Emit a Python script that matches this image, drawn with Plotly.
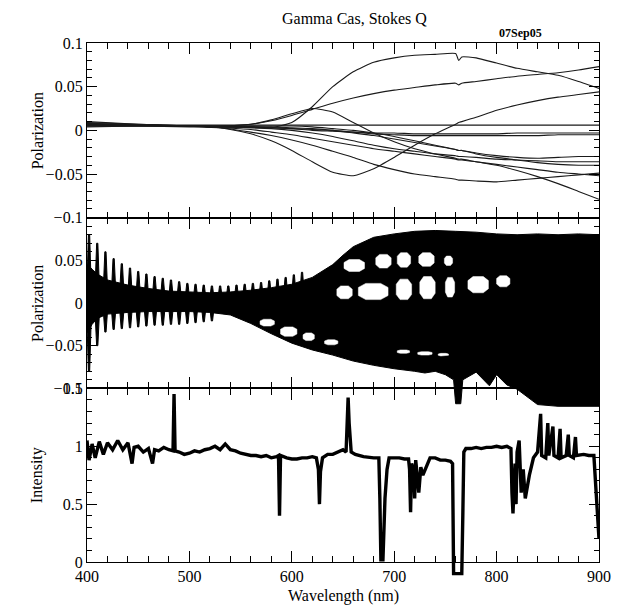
import plotly.graph_objects as go

# ---------------- data ----------------
# top panel: smoothed Stokes Q curves sampled on a common wavelength grid (nm)
wl_grid = [400, 450, 500, 530, 560, 580, 600, 620, 640, 660, 680, 700, 720, 740, 760, 763, 766, 780, 800, 820, 840, 860, 880, 900]
q_a = [.008, .006, .005, .004, .003, .003, .009, .027, .050, .067, .078, .083, .086, .087, .088, .080, .084, .083, .077, .071, .067, .063, .056, .048]
q_b = [.007, .006, .005, .005, .007, .011, .017, .024, .031, .037, .042, .046, .049, .052, .054, .052, .054, .056, .059, .062, .064, .066, .069, .073]
q_c = [.006, .006, .005, .005, .007, .012, .019, .025, .021, .009, -.003, -.013, -.021, -.027, -.032, -.033, -.033, -.036, -.040, -.046, -.053, -.061, -.070, -.079]
q_d = [.009, .007, .005, .003, -.004, -.012, -.023, -.036, -.048, -.052, -.044, -.031, -.017, -.004, .007, .009, .010, .015, .023, .029, .034, .038, .041, .044]
q_e = [.005, .005, .004, .003, -.002, -.006, -.011, -.017, -.024, -.031, -.039, -.045, -.050, -.053, -.056, -.057, -.057, -.058, -.059, -.057, -.055, -.053, -.051, -.049]
q_f = [.007, .006, .006, .006, .006, .006, .006, .006, .006, .006, .006, .006, .006, .006, .006, .006, .006, .006, .006, .006, .006, .006, .006, .006]
q_g = [.006, .005, .005, .004, .004, .003, .002, .000, -.001, -.002, -.003, -.003, -.004, -.004, -.004, -.004, -.004, -.004, -.004, -.003, -.003, -.003, -.003, -.003]
q_h = [.004, .005, .005, .004, .004, .003, .002, .001, .000, -.002, -.004, -.005, -.006, -.006, -.006, -.006, -.006, -.006, -.006, -.006, -.006, -.005, -.005, -.005]
q_i = [.006, .006, .005, .005, .004, .004, .003, .002, .000, -.003, -.006, -.010, -.014, -.018, -.022, -.023, -.023, -.026, -.029, -.031, -.032, -.031, -.030, -.030]
q_j = [.008, .006, .005, .004, .003, .002, .000, -.003, -.007, -.012, -.017, -.021, -.024, -.027, -.029, -.030, -.030, -.031, -.033, -.034, -.035, -.036, -.036, -.036]
q_k = [.010, .007, .005, .003, .001, -.002, -.005, -.009, -.013, -.017, -.021, -.024, -.027, -.030, -.033, -.034, -.034, -.036, -.039, -.042, -.045, -.048, -.050, -.052]
q_l = [.005, .005, .005, .005, .005, .005, .005, .004, .002, .000, -.003, -.007, -.012, -.017, -.022, -.023, -.023, -.027, -.031, -.034, -.037, -.039, -.040, -.040]

# middle panel: envelope of the unsmoothed polarization data
mid_up_wl = [400, 405, 410, 420, 440, 460, 480, 500, 520, 540, 560, 580, 600, 620, 640, 650, 660, 680, 700, 720, 740, 760, 780, 800, 820, 840, 860, 880, 900]
mid_up = [.045, .040, .034, .027, .021, .017, .014, .013, .012, .013, .015, .018, .022, .030, .045, .056, .066, .077, .081, .084, .085, .084, .083, .081, .080, .081, .080, .081, .080]
mid_lo_wl = [400, 405, 410, 420, 440, 460, 480, 500, 520, 540, 560, 580, 600, 620, 640, 660, 680, 700, 720, 730, 740, 750, 758, 760, 765, 767, 780, 793, 800, 810, 820, 830, 840, 860, 880, 900]
mid_lo = [-.035, -.025, -.018, -.013, -.011, -.010, -.010, -.010, -.011, -.014, -.024, -.036, -.047, -.055, -.061, -.068, -.073, -.077, -.080, -.082, -.080, -.084, -.090, -.118, -.118, -.090, -.081, -.097, -.084, -.096, -.101, -.110, -.119, -.121, -.121, -.121]
# fringe spikes (wavelength, tip)
fr_up_wl = [402, 410, 418, 426, 434, 442, 450, 458, 466, 474, 482, 490, 498, 506, 514, 522, 530, 538, 546, 554, 562, 570, 578, 586, 594, 602, 610]
fr_up = [.080, .070, .060, .052, .046, .041, .037, .034, .031, .029, .027, .025, .023, .022, .021, .020, .020, .020, .021, .022, .023, .024, .026, .028, .030, .033, .036]
fr_lo_wl = [402, 410, 418, 426, 434, 442, 450, 458, 466, 474, 482, 490, 498, 506, 514, 522]
fr_lo = [-.080, -.050, -.034, -.031, -.030, -.029, -.028, -.027, -.026, -.026, -.025, -.025, -.024, -.023, -.022, -.021]
# white gaps inside the envelope: wavelength start/end, polarization low/high
gap_wl0 = [651, 682, 703, 724, 749, 644, 665, 702, 725, 750, 772, 800, 569, 589, 611, 632, 703, 723, 743]
gap_wl1 = [671, 697, 716, 739, 757, 659, 694, 717, 740, 759, 792, 813, 583, 605, 622, 645, 715, 737, 753]
gap_p0 = [.037, .041, .042, .043, .044, .005, .004, .004, .005, .007, .012, .019, -.027, -.039, -.044, -.049, -.059, -.061, -.062]
gap_p1 = [.051, .057, .059, .059, .055, .020, .023, .028, .031, .030, .031, .032, -.019, -.028, -.035, -.043, -.055, -.057, -.059]

# bottom panel: normalized intensity
int_wl = [400, 402, 405, 408, 412, 416, 420, 425, 430, 435, 440, 444, 446, 450, 455, 460, 464, 466, 470, 475, 480, 484, 485, 486, 490, 495,
          500, 505, 510, 515, 520, 525, 530, 535, 540, 545, 550, 555, 560, 565, 570, 575, 580, 585, 587, 588, 589, 595,
          600, 605, 610, 615, 620, 624, 626, 627, 628, 630, 635, 640, 645, 650, 653, 655, 656, 658, 662, 670, 680, 685,
          686, 687, 689, 690, 691, 693, 695, 700, 705, 710, 714, 715, 716, 717, 719, 720, 721, 723, 724, 726, 728, 735, 740, 745, 750, 755, 757,
          758, 766, 767, 768, 770, 775, 780, 785, 790, 795, 800, 805, 810, 814, 815, 816, 818, 819, 820, 822, 824, 826, 828, 832, 836, 840,
          843, 844, 848, 850, 851, 855, 856, 860, 862, 863, 868, 870, 871, 875, 877, 878, 885, 890, 895, 897, 899, 900]
int_val = [1.05, 0.88, 1.02, 0.90, 1.04, 0.93, 1.03, 0.97, 1.05, 0.97, 1.03, 0.85, 0.99, 1.00, 0.95, 0.98, 0.85, 0.97, 0.96, 0.99, 0.97, 0.96, 1.45, 0.96, 0.95, 0.93,
           0.94, 0.96, 0.95, 0.97, 0.98, 1.00, 0.97, 1.02, 0.97, 0.96, 0.94, 0.93, 0.92, 0.92, 0.91, 0.92, 0.90, 0.91, 0.92, 0.40, 0.92, 0.90,
           0.89, 0.89, 0.90, 0.90, 0.91, 0.90, 0.80, 0.50, 0.78, 0.90, 0.93, 0.93, 0.95, 0.97, 0.95, 1.42, 1.20, 0.95, 0.93, 0.91, 0.90, 0.90,
           0.55, 0.02, 0.02, 0.30, 0.55, 0.80, 0.90, 0.90, 0.90, 0.89, 0.89, 0.80, 0.43, 0.85, 0.80, 0.55, 0.88, 0.70, 0.60, 0.82, 0.75, 0.90, 0.90, 0.88, 0.88, 0.87, 0.85,
           -0.10, -0.10, 0.40, 0.95, 0.98, 0.98, 0.99, 0.98, 0.99, 0.99, 1.00, 0.99, 1.00, 0.98, 0.60, 0.42, 0.85, 0.50, 0.95, 1.05, 0.60, 0.80, 0.55, 0.75, 0.90, 0.95,
           1.28, 0.92, 0.90, 1.20, 0.92, 1.17, 0.92, 0.90, 1.15, 0.90, 0.92, 1.10, 0.92, 0.90, 1.08, 0.92, 0.93, 0.92, 0.92, 0.60, 0.25, 0.20]

# tick labels
x_ticks = [400, 500, 600, 700, 800, 900]
top_ticks = [-0.1, -0.05, 0, 0.05, 0.1]
top_text = ["\u22120.1", "\u22120.05", "0", "0.05", "0.1"]
mid_ticks = [-0.1, -0.05, 0, 0.05]
mid_text = ["\u22120.1", "\u22120.05", "0", "0.05"]
bot_ticks = [0, 0.5, 1, 1.5]
bot_text = ["0", "0.5", "1", "1.5"]

# ---------------- layout geometry ----------------
W, H = 623, 605
ML, MR, MT, MB = 87, 14, 43, 20
PH = H - MT - MB
PW = W - ML - MR


def fy(px):
    return (H - MB - px) / PH


def fx(px):
    return (px - ML) / PW


TOP0, TOP1 = 43, 218
MID0, MID1 = 218, 389
BOT0, BOT1 = 389, 563
MID_EXT = 415
BOT_EXT = H - MB

mid_scale = 0.2 / (MID1 - MID0)
mid_ext_low = -0.1 - (MID_EXT - MID1) * mid_scale
bot_scale = 1.5 / (BOT1 - BOT0)
bot_ext_low = 0 - (BOT_EXT - BOT1) * bot_scale

FONT = "Liberation Serif"
INK = "black"

fig = go.Figure()

# top panel curves
for q in [q_a, q_b, q_c, q_d, q_e, q_f, q_g, q_h, q_i, q_j, q_k, q_l]:
    fig.add_trace(go.Scatter(x=wl_grid, y=q, xaxis="x3", yaxis="y", mode="lines",
                             line=dict(color="#1a1a1a", width=1.1, shape="spline", smoothing=0.5),
                             hoverinfo="skip", showlegend=False))

# middle panel envelope
fig.add_trace(go.Scatter(x=mid_up_wl + mid_lo_wl[::-1], y=mid_up + mid_lo[::-1], xaxis="x2", yaxis="y4",
                         mode="lines", fill="toself", fillcolor=INK, line=dict(color=INK, width=1),
                         hoverinfo="skip", showlegend=False))
# fringe spikes
fx_, fy_ = [], []
for w, t in zip(fr_up_wl, fr_up):
    fx_ += [w - 2.6, w - 0.6, w + 0.6, w + 2.6, None]
    fy_ += [0, t, t, 0, None]
for w, t in zip(fr_lo_wl, fr_lo):
    fx_ += [w - 2.6, w - 0.6, w + 0.6, w + 2.6, None]
    fy_ += [0, t, t, 0, None]
fig.add_trace(go.Scatter(x=fx_, y=fy_, xaxis="x2", yaxis="y4", mode="lines", fill="toself",
                         fillcolor=INK, line=dict(color=INK, width=1), hoverinfo="skip", showlegend=False))
# white gaps
gx, gy = [], []
for a, b, lo, hi in zip(gap_wl0, gap_wl1, gap_p0, gap_p1):
    dw = (b - a) * 0.25
    dp = (hi - lo) * 0.25
    gx += [a + dw, b - dw, b, b, b - dw, a + dw, a, a, a + dw, None]
    gy += [lo, lo, lo + dp, hi - dp, hi, hi, hi - dp, lo + dp, lo, None]
fig.add_trace(go.Scatter(x=gx, y=gy, xaxis="x2", yaxis="y4", mode="lines", fill="toself",
                         fillcolor="white", line=dict(color="white", width=0.5), hoverinfo="skip", showlegend=False))

# bottom panel spectrum
fig.add_trace(go.Scatter(x=int_wl, y=int_val, xaxis="x", yaxis="y5", mode="lines",
                         line=dict(color=INK, width=3.4), hoverinfo="skip", showlegend=False))

# placeholder traces so every framed subplot exists
for xa, ya in [("x", "y3"), ("x2", "y2"), ("x3", "y")]:
    fig.add_trace(go.Scatter(x=[None], y=[None], xaxis=xa, yaxis=ya, mode="lines", showlegend=False, hoverinfo="skip"))

tickfont = dict(family=FONT, size=16, color=INK)

xcommon = dict(range=[400, 900], showgrid=False, zeroline=False, showline=True, linecolor=INK, linewidth=1.3,
               mirror="ticks", ticks="inside", ticklen=11, tickwidth=1.2, tickcolor=INK, dtick=100, tick0=400,
               minor=dict(ticks="inside", ticklen=6, tickwidth=1, tickcolor=INK, dtick=20, showgrid=False),
               tickfont=tickfont)
ycommon = dict(showgrid=False, zeroline=False, showline=True, linecolor=INK, linewidth=1.3, mirror="ticks",
               ticks="inside", ticklen=10, tickwidth=1.2, tickcolor=INK, tickfont=tickfont, tickmode="array")

fig.update_layout(
    width=W, height=H, margin=dict(l=ML, r=MR, t=MT, b=MB),
    paper_bgcolor="white", plot_bgcolor="rgba(0,0,0,0)", showlegend=False,
    xaxis=dict(**xcommon, anchor="y3", domain=[0, 1], tickvals=x_ticks, ticktext=[str(v) for v in x_ticks],
               showticklabels=True, tickmode="array", ticklabelstandoff=0),
    xaxis2=dict(**xcommon, anchor="y2", domain=[0, 1], matches="x", showticklabels=False),
    xaxis3=dict(**xcommon, anchor="y", domain=[0, 1], matches="x", showticklabels=False),
    yaxis=dict(**ycommon, anchor="x3", domain=[fy(TOP1), fy(TOP0)], range=[-0.1, 0.1],
               tickvals=top_ticks, ticktext=top_text,
               minor=dict(ticks="inside", ticklen=5, tickwidth=1, tickcolor=INK, tickvals=[i / 100 for i in range(-10, 11)])),
    yaxis2=dict(**ycommon, anchor="x2", domain=[fy(MID1), fy(MID0)], range=[-0.1, 0.1],
                tickvals=mid_ticks, ticktext=mid_text,
                minor=dict(ticks="inside", ticklen=5, tickwidth=1, tickcolor=INK, tickvals=[i / 100 for i in range(-10, 11)])),
    yaxis3=dict(**ycommon, anchor="x", domain=[fy(BOT1), fy(BOT0)], range=[0, 1.5],
                tickvals=bot_ticks, ticktext=bot_text,
                minor=dict(ticks="inside", ticklen=5, tickwidth=1, tickcolor=INK, tickvals=[i / 10 for i in range(0, 16)])),
    yaxis4=dict(anchor="x2", domain=[fy(MID_EXT), fy(MID0)], range=[mid_ext_low, 0.1], visible=False),
    yaxis5=dict(anchor="x", domain=[0, fy(BOT0)], range=[bot_ext_low, 1.5], visible=False),
)

ann = [
    dict(text="Gamma Cas, Stokes Q", x=fx(360), y=fy(18), size=16),
    dict(text="<b>07Sep05</b>", x=fx(529), y=fy(33), size=12),
    dict(text="Wavelength (nm)", x=fx(349), y=fy(597), size=16),
    dict(text="Polarization", x=fx(36), y=fy((TOP0 + TOP1) / 2), size=16, angle=-90),
    dict(text="Polarization", x=fx(36), y=fy((MID0 + MID1) / 2), size=16, angle=-90),
    dict(text="Intensity", x=fx(36), y=fy((BOT0 + BOT1) / 2), size=16, angle=-90),
]
for a in ann:
    fig.add_annotation(text=a["text"], x=a["x"], y=a["y"], xref="paper", yref="paper", showarrow=False,
                       xanchor="center", yanchor="middle", textangle=a.get("angle", 0),
                       font=dict(family=FONT, size=a["size"], color=INK))

fig.write_html("out.html")
